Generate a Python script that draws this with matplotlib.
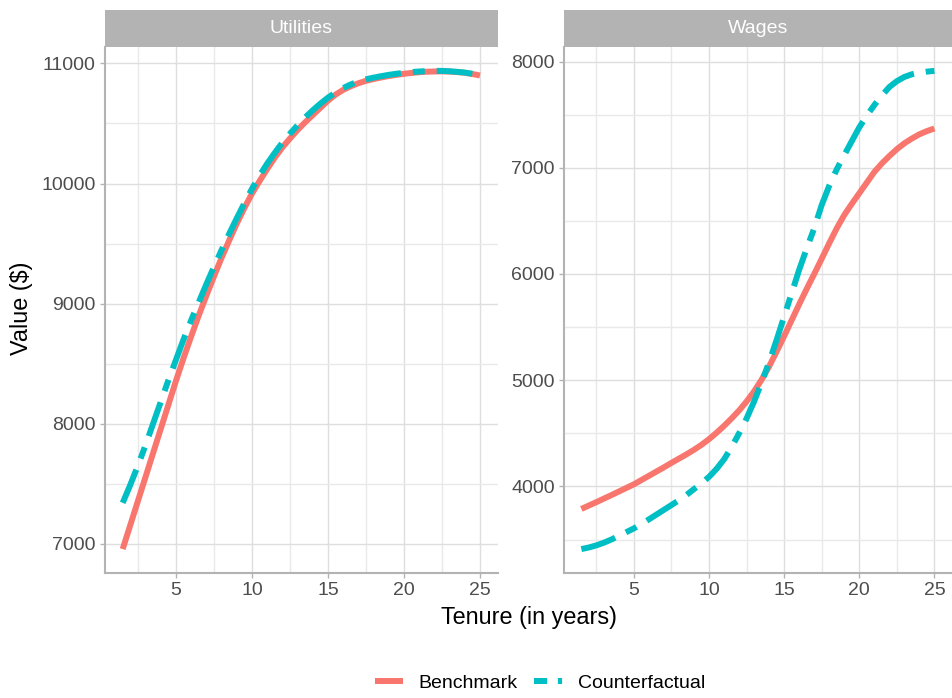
import matplotlib.pyplot as plt
from matplotlib.lines import Line2D
from matplotlib.ticker import MultipleLocator

plt.rcParams['font.family'] = ['Liberation Sans', 'DejaVu Sans']

# tenure (years), read every half year off the picture
tenure = [1.5, 2, 2.5, 3, 3.5, 4, 4.5, 5, 5.5, 6, 6.5, 7, 7.5, 8, 8.5, 9,
          9.5, 10, 10.5, 11, 11.5, 12, 12.5, 13, 13.5, 14, 14.5, 15, 15.5,
          16, 16.5, 17, 17.5, 18, 18.5, 19, 19.5, 20, 20.5, 21, 21.5, 22,
          22.5, 23, 23.5, 24, 24.5, 25]

util_bench = [6955, 7155, 7355, 7555, 7755, 7955, 8155, 8355, 8545, 8725,
              8900, 9065, 9225, 9380, 9525, 9665, 9795, 9915, 10020, 10120,
              10215, 10300, 10375, 10445, 10510, 10570, 10630, 10690, 10740,
              10780, 10810, 10835, 10855, 10870, 10883, 10895, 10905, 10914,
              10921, 10927, 10931, 10933, 10934, 10932, 10928, 10922, 10912,
              10900]
util_cf = [7340, 7490, 7650, 7820, 8000, 8180, 8360, 8530, 8700, 8860,
           9010, 9160, 9305, 9445, 9580, 9710, 9835, 9955, 10065, 10165,
           10255, 10340, 10415, 10485, 10550, 10610, 10665, 10715, 10758,
           10795, 10825, 10850, 10868, 10882, 10894, 10905, 10914, 10922,
           10928, 10933, 10936, 10938, 10938, 10935, 10930, 10924, 10914,
           10902]

wage_bench = [3788, 3820, 3852, 3885, 3918, 3952, 3986, 4020, 4060, 4100,
              4140, 4180, 4222, 4262, 4302, 4345, 4392, 4445, 4505, 4570,
              4640, 4715, 4800, 4895, 5005, 5130, 5270, 5415, 5565, 5715,
              5860, 6000, 6144, 6290, 6430, 6555, 6660, 6760, 6860, 6960,
              7040, 7110, 7175, 7230, 7275, 7315, 7345, 7370]
wage_cf = [3410, 3425, 3445, 3470, 3500, 3535, 3570, 3605, 3645, 3690,
           3735, 3780, 3825, 3870, 3920, 3975, 4030, 4090, 4165, 4255,
           4370, 4500, 4640, 4800, 4980, 5170, 5380, 5600, 5820, 6040,
           6240, 6430, 6650, 6830, 6985, 7120, 7250, 7380, 7490, 7590,
           7680, 7760, 7815, 7855, 7880, 7895, 7905, 7912]

panels = ["Utilities", "Wages"]
series = [(util_bench, util_cf), (wage_bench, wage_cf)]

red = "#F8766D"
cyan = "#00BFC4"
lw = 4.3
dash = (6, 2, 2, 2)

fig = plt.figure(figsize=(9.53, 6.98), dpi=100)
boxes = [[0.110, 0.1791, 0.4124, 0.7536], [0.5915, 0.1791, 0.4075, 0.7536]]

for i in range(2):
    ax = fig.add_axes(boxes[i])
    b, c = series[i]
    ax.plot(tenure, b, color=red, lw=lw, solid_capstyle="butt",
            solid_joinstyle="round", zorder=3)
    ax.plot(tenure, c, color=cyan, lw=lw, dashes=dash, dash_capstyle="butt",
            dash_joinstyle="round", zorder=4)

    allv = b + c
    rng = max(allv) - min(allv)
    ax.set_ylim(min(allv) - 0.05 * rng, max(allv) + 0.05 * rng)
    ax.set_xlim(1.5 - 0.05 * 23.5, 25 + 0.05 * 23.5)

    ax.xaxis.set_major_locator(MultipleLocator(5))
    ax.xaxis.set_minor_locator(MultipleLocator(2.5))
    ax.yaxis.set_major_locator(MultipleLocator(1000))
    ax.yaxis.set_minor_locator(MultipleLocator(500))
    ax.grid(which="major", color="#DEDEDE", lw=1.0)
    ax.grid(which="minor", color="#E9E9E9", lw=1.0)
    ax.set_axisbelow(True)

    for s in ["top", "right"]:
        ax.spines[s].set_visible(False)
    for s in ["left", "bottom"]:
        ax.spines[s].set_color("#B3B3B3")
        ax.spines[s].set_linewidth(1.5)
    ax.tick_params(which="major", color="#B3B3B3", length=3.5, width=1,
                   labelsize=14, labelcolor="#4D4D4D", pad=3)
    ax.tick_params(which="minor", length=0)

    # facet strip
    strip = fig.add_axes([boxes[i][0], 0.9327, boxes[i][2], 0.053])
    strip.set_facecolor("#B3B3B3")
    strip.set_xticks([])
    strip.set_yticks([])
    for s in strip.spines.values():
        s.set_visible(False)
    strip.text(0.5, 0.5, panels[i], color="white", fontsize=14,
               ha="center", va="center", transform=strip.transAxes)

fig.text(0.023, 0.559, "Value ($)", rotation=90, fontsize=16.8,
         ha="center", va="center")
fig.text(0.555, 0.116, "Tenure (in years)", fontsize=16.8,
         ha="center", va="center")

handles = [Line2D([], [], color=red, lw=lw, solid_capstyle="butt"),
           Line2D([], [], color=cyan, lw=lw, dashes=(2.2, 1.8, 0.7, 1.8),
                  dash_capstyle="butt")]
fig.legend(handles, ["Benchmark", "Counterfactual"], loc="center",
           bbox_to_anchor=(0.5666, 0.0215), ncol=2, frameon=False,
           fontsize=14, handlelength=1.45, columnspacing=0.88,
           handletextpad=0.77)

fig.savefig("out.png", dpi=100)
